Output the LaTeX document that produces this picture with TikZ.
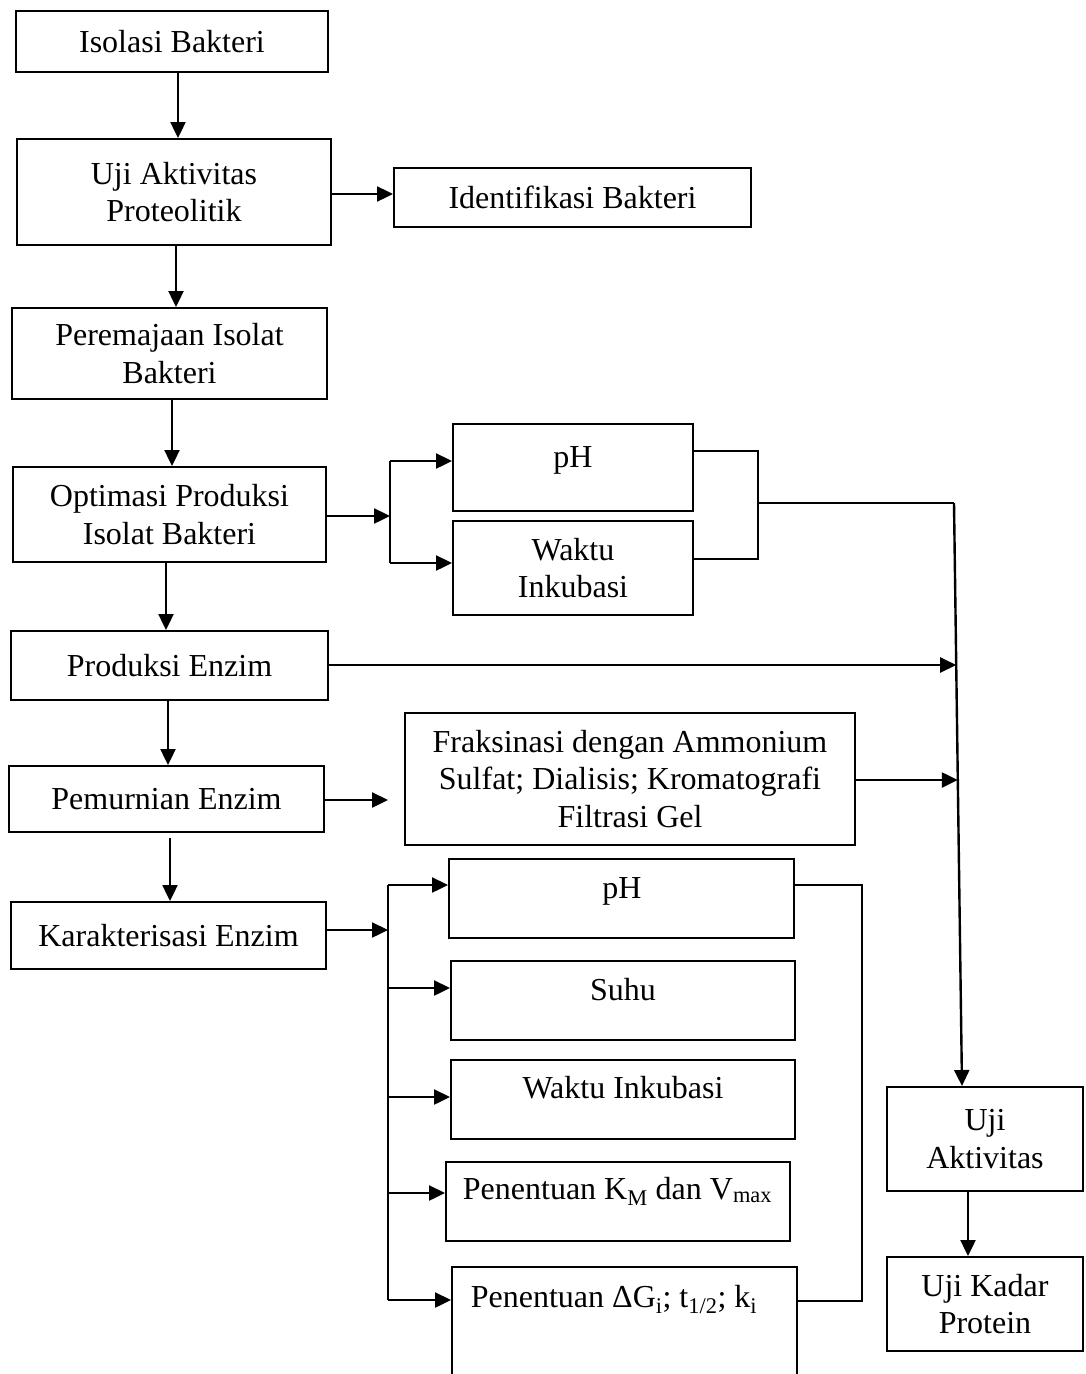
\documentclass[tikz,border=0pt]{standalone}
\usepackage{fontspec}
\setmainfont{Liberation Serif}
\usetikzlibrary{arrows.meta,calc}
\begin{document}
\begin{tikzpicture}[x=1pt,y=-1pt,
  box/.style={draw,line width=2pt,inner sep=0pt,align=center,
    font=\fontsize{32}{37.5}\selectfont},
  lbl/.style={inner sep=0pt,anchor=base,font=\fontsize{32}{37.5}\selectfont},
  arr/.style={line width=2.4pt,-{Triangle[length=16pt,width=15pt]}},
  ln/.style={line width=2.4pt},
  thin/.style={line width=1.6pt}]
\useasboundingbox (0,0) rectangle (1086,1374);
% left column
\node[box,minimum width=312,minimum height=61] (b1) at (172,41.5) {Isolasi Bakteri};
\node[box,minimum width=314,minimum height=106] (b2) at (174,192) {Uji Aktivitas\\Proteolitik};
\node[box,minimum width=357,minimum height=59] (id) at (572.5,197.5) {Identifikasi Bakteri};
\node[box,minimum width=315,minimum height=91] (b3) at (169.5,353.5) {Peremajaan Isolat\\Bakteri};
\node[box,minimum width=313,minimum height=95] (b4) at (169.5,514.5) {Optimasi Produksi\\Isolat Bakteri};
\node[box,minimum width=317,minimum height=69] (b5) at (169.5,665.5) {Produksi Enzim};
\node[box,minimum width=315,minimum height=66] (b6) at (166.5,799) {Pemurnian Enzim};
\node[box,minimum width=315,minimum height=67] (b7) at (168.5,935.5) {Karakterisasi Enzim};
% optimasi branch
\node[box,minimum width=240,minimum height=87] (ph1) at (573,467.5) {};
\node[lbl] (ph1t) at (573,467) {pH};
\node[box,minimum width=240,minimum height=94] (wk1) at (573,568) {Waktu\\Inkubasi};
% fraksinasi
\node[box,minimum width=450,minimum height=132] (fr) at (630,779) {Fraksinasi dengan Ammonium\\Sulfat; Dialisis; Kromatografi\\Filtrasi Gel};
% karakterisasi branch
\node[box,minimum width=345,minimum height=79] (ph2) at (621.5,898.5) {};
\node[lbl] (ph2t) at (622,898) {pH};
\node[box,minimum width=344,minimum height=79] (su) at (623,1000.5) {};
\node[lbl] (sut) at (623,1000) {Suhu};
\node[box,minimum width=344,minimum height=79] (wk2) at (623,1099.5) {};
\node[lbl] (wk2t) at (623,1098) {Waktu Inkubasi};
\node[box,minimum width=344,minimum height=79] (km) at (618,1201.5) {};
\node[lbl] (kmt) at (617.5,1199) {Penentuan K\textsubscript{M} dan V\textsubscript{max}};
\node[box,minimum width=345,minimum height=110] (dg) at (624.5,1322) {};
\node[lbl] (dgt) at (614,1307) {Penentuan ΔG\textsubscript{i}; t\textsubscript{1/2}; k\textsubscript{i}};
% right column
\node[box,minimum width=196,minimum height=104] (ua) at (985,1139) {Uji\\Aktivitas};
\node[box,minimum width=196,minimum height=94] (uk) at (985,1304) {Uji Kadar\\Protein};
% coordinates
\coordinate (j1) at (390,516);
\coordinate (j1a) at (390,461);
\coordinate (j1b) at (390,563);
\coordinate (r1a) at (758,451);
\coordinate (r1b) at (758,559);
\coordinate (r1m) at (758,503);
\coordinate (c1) at (954,503);
\coordinate (c2) at (956.2,665);
\coordinate (c3) at (957.8,780);
\coordinate (pe) at (388,800);
\coordinate (j2) at (388,930);
\coordinate (j2a) at (388,885);
\coordinate (j2b) at (388,988);
\coordinate (j2c) at (388,1097);
\coordinate (j2d) at (388,1193);
\coordinate (j2e) at (388,1300);
\coordinate (r2a) at (862,885);
\coordinate (r2b) at (862,1301);
% main flow
\draw[arr] ([xshift=6pt]b1.south) -- ([xshift=6pt]b1.south |- b2.north);
\draw[arr] ([yshift=-2pt]b2.east) -- ([yshift=-2pt]b2.east -| id.west);
\draw[arr] ([xshift=2pt]b2.south) -- ([xshift=2pt]b2.south |- b3.north);
\draw[arr] ([xshift=2.5pt]b3.south) -- ([xshift=2.5pt]b3.south |- b4.north);
\draw[arr] ([xshift=-3.5pt]b4.south) -- ([xshift=-3.5pt]b4.south |- b5.north);
\draw[arr] ([xshift=-1.5pt]b5.south) -- ([xshift=-1.5pt]b5.south |- b6.north);
\draw[arr] ([xshift=3.5pt,yshift=-5pt]b6.south) -- ([xshift=3.5pt]b6.south |- b7.north);
% optimasi branch
\draw[arr] (b4.east |- j1) -- (j1);
\draw[ln] (j1a) -- (j1b);
\draw[arr] (j1a) -- (j1a -| ph1.west);
\draw[arr] (j1b) -- (j1b -| wk1.west);
\draw[thin] (ph1.east |- r1a) -- (r1a) -- (r1b) -- (wk1.east |- r1b);
\draw[thin] (r1m) -- (c1);
\draw[arr] (c1) -- ([xshift=-23pt]ua.north);
\draw[arr] (b5.east |- c2) -- (c2);
\draw[arr] (b6.east |- pe) -- (pe);
\draw[arr] (fr.east |- c3) -- (c3);
\draw[arr] ([xshift=-17pt]ua.south) -- ([xshift=-17pt]ua.south |- uk.north);
% karakterisasi branch
\draw[arr] (b7.east |- j2) -- (j2);
\draw[ln] (j2a) -- (j2e);
\draw[arr] (j2a) -- (j2a -| ph2.west);
\draw[arr] (j2b) -- (j2b -| su.west);
\draw[arr] (j2c) -- (j2c -| wk2.west);
\draw[arr] (j2d) -- (j2d -| km.west);
\draw[arr] (j2e) -- (j2e -| dg.west);
\draw[thin] (ph2.east |- r2a) -- (r2a) -- (r2b) -- (dg.east |- r2b);
\end{tikzpicture}
\end{document}
